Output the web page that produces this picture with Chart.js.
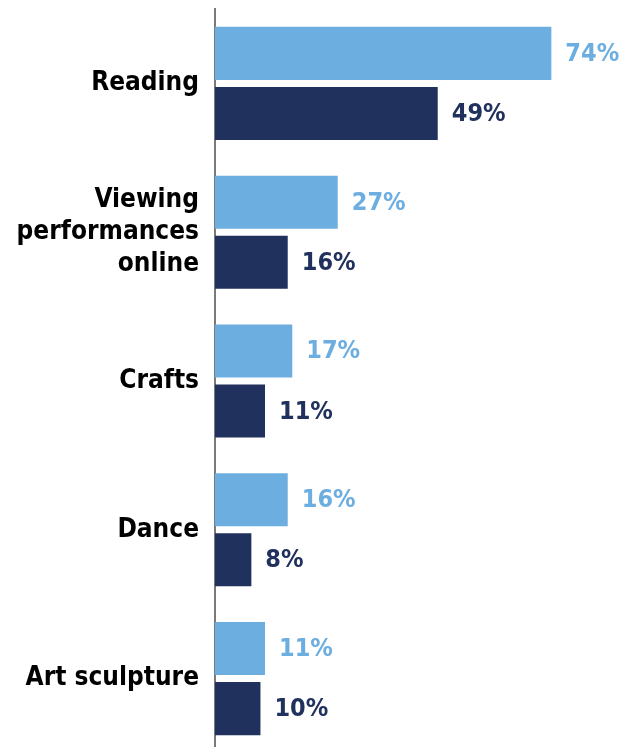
<!DOCTYPE html>
<html>
<head>
<meta charset="utf-8">
<script src="https://cdn.jsdelivr.net/npm/chart.js@4"></script>
<style>
  html, body { margin: 0; padding: 0; background: #fff; overflow: hidden; }
</style>
</head>
<body>
<canvas id="chart" width="621" height="753"></canvas>
<script>
const categories = ['Reading', ['Viewing', 'performances', 'online'], 'Crafts', 'Dance', 'Art sculpture'];
const lightValues = [74, 27, 17, 16, 11];
const darkValues = [49, 16, 11, 8, 10];

const LIGHT = '#6DAEE0';
const DARK = '#21315E';
const FONT = "'DejaVu Sans Condensed', 'DejaVu Sans', sans-serif";

const valueLabels = {
  id: 'valueLabels',
  afterDatasetsDraw(chart) {
    const ctx = chart.ctx;
    ctx.save();
    ctx.font = 'bold 25px ' + FONT;
    ctx.textAlign = 'left';
    ctx.textBaseline = 'middle';
    chart.data.datasets.forEach((ds, i) => {
      chart.getDatasetMeta(i).data.forEach((bar, j) => {
        ctx.fillStyle = ds.backgroundColor;
        ctx.fillText(ds.data[j] + '%', bar.x + 14, bar.y + 1);
      });
    });
    ctx.restore();
  }
};

const ctx = document.getElementById('chart').getContext('2d');
new Chart(ctx, {
  type: 'bar',
  data: {
    labels: categories,
    datasets: [
      { data: lightValues, backgroundColor: LIGHT, categoryPercentage: 0.807, barPercentage: 0.883 },
      { data: darkValues, backgroundColor: DARK, categoryPercentage: 0.807, barPercentage: 0.883 }
    ]
  },
  options: {
    indexAxis: 'y',
    responsive: false,
    animation: false,
    layout: { padding: { top: 9, right: 6, left: 0, bottom: 0 } },
    plugins: {
      legend: { display: false },
      tooltip: { enabled: false }
    },
    scales: {
      x: {
        display: false,
        min: 0,
        max: 88
      },
      y: {
        afterFit(scale) {
          scale.width = 215;
          scale.paddingTop = 0;
          scale.paddingBottom = 0;
        },
        grid: { display: false, drawTicks: false },
        border: { display: true, color: '#7a7a7a', width: 2 },
        ticks: {
          color: '#000',
          padding: 16,
          autoSkip: false,
          font: { family: FONT, size: 26, weight: 'bold', lineHeight: 1.23 }
        }
      }
    }
  },
  plugins: [valueLabels]
});
</script>
</body>
</html>
